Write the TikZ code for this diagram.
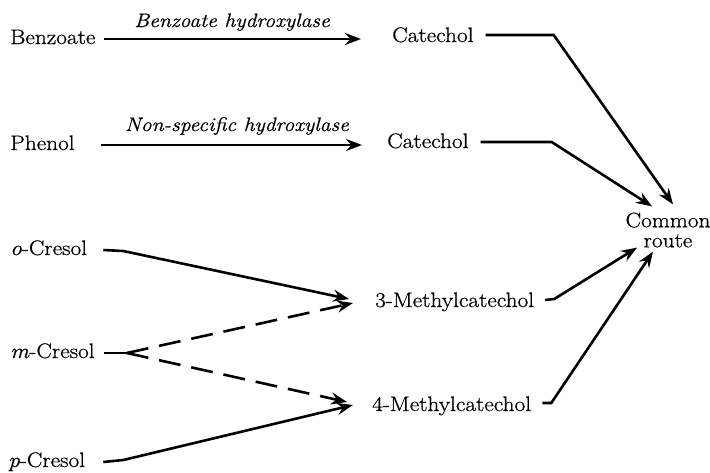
\documentclass[tikz,border=0pt]{standalone}
\usepackage{fontspec}
\setmainfont{Latin Modern Roman}[FakeStretch=1.11,FakeBold=0.7]
\usetikzlibrary{arrows.meta}
\begin{document}
\begin{tikzpicture}[x=1pt,y=-1pt,
  every node/.style={inner sep=0pt,font=\fontsize{21}{22}\selectfont},
  cmpd/.style={anchor=west,text height=14pt,text depth=4pt},
  enz/.style={anchor=base,font=\fontsize{19.5}{22}\selectfont\itshape},
  link/.style={line width=2.6pt,line join=miter},
  arr/.style={link,-{Stealth[length=16pt,width=12pt,inset=5.5pt]}},
  darr/.style={arr,dash pattern=on 22pt off 11pt}]
\useasboundingbox (0,0) rectangle (710,472);

% substrates
\node[cmpd] (benz) at (10,39) {Benzoate};
\node[cmpd] (phen) at (10,145) {Phenol};
\node[cmpd] (ocre) at (10,250) {\textit{o}-Cresol};
\node[cmpd] (mcre) at (10,353) {\textit{m}-Cresol};
\node[cmpd] (pcre) at (8,462) {\textit{p}-Cresol};

% intermediates
\node[cmpd] (cat1) at (392,37) {Catechol};
\node[cmpd] (cat2) at (387,143) {Catechol};
\node[cmpd] (mc3) at (375,302) {3-Methylcatechol};
\node[cmpd] (mc4) at (372,406) {4-Methylcatechol};

% end point
\node[align=center,font=\fontsize{21}{20}\selectfont] (common) at (668,230) {Common\\route};

% enzymes
\node[enz] (bhyd) at (232,27) {Benzoate hydroxylase};
\node[enz] (nhyd) at (237,131) {Non-specific hydroxylase};

% hydroxylations
\draw[arr] ([xshift=8pt]benz.east) -- ([xshift=-31pt]cat1.west |- benz.east);
\draw[arr] ([xshift=26pt]phen.east) -- ([xshift=-25pt]cat2.west |- phen.east);

% cresols to methylcatechols
\draw[arr] ([xshift=16pt]ocre.east) -- ++(20,1) -- ([xshift=-26pt,yshift=3pt]mc3.west);
\draw[link] ([xshift=9pt]mcre.east) -- ++(23,0) coordinate (fork);
\draw[darr] (fork) -- ([xshift=-22pt,yshift=-1pt]mc3.west);
\draw[darr] (fork) -- ([xshift=-25pt,yshift=4pt]mc4.west);
\draw[arr] ([xshift=18pt]pcre.east) -- ++(20,-2) -- ([xshift=-19pt,yshift=1pt]mc4.west);

% catechols to the common route
\draw[arr] ([xshift=12pt,yshift=2pt]cat1.east) -- ++(68,0) -- ([xshift=5pt,yshift=8pt]common.north);
\draw[arr] ([xshift=12pt,yshift=1pt]cat2.east) -- ++(71,0) -- ([xshift=-16pt,yshift=6pt]common.north);
\draw[arr] ([xshift=11pt,yshift=2pt]mc3.east) -- ++(9,-1) -- ([xshift=-31pt]common.south);
\draw[arr] ([xshift=11pt,yshift=3pt]mc4.east) -- ++(9,0) -- ([xshift=-15pt,yshift=-4pt]common.south);
\end{tikzpicture}
\end{document}
